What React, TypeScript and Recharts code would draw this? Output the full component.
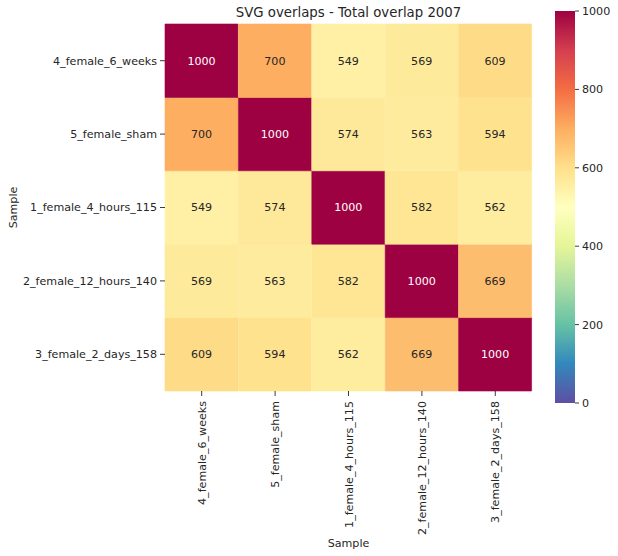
import React from 'react';
import { BarChart, Bar, XAxis, YAxis, Cell, LabelList } from 'recharts';

// Samples, in row order (top to bottom) and column order (left to right)
const samples = [
  '4_female_6_weeks',
  '5_female_sham',
  '1_female_4_hours_115',
  '2_female_12_hours_140',
  '3_female_2_days_158',
];

// Pairwise overlap values, one array per row
const row0 = [1000, 700, 549, 569, 609];
const row1 = [700, 1000, 574, 563, 594];
const row2 = [549, 574, 1000, 582, 562];
const row3 = [569, 563, 582, 1000, 669];
const row4 = [609, 594, 562, 669, 1000];
const rows = [row0, row1, row2, row3, row4];

const colorbarTicks = [0, 200, 400, 600, 800, 1000];
const vmin = 0;
const vmax = 1000;

const title = 'SVG overlaps - Total overlap 2007';
const axisTitle = 'Sample';

// Spectral colormap, reversed (low = purple/blue, high = deep red)
const spectralR = [
  '#5e4fa2', '#3288bd', '#66c2a5', '#abdda4', '#e6f598', '#ffffbf',
  '#fee08b', '#fdae61', '#f46d43', '#d53e4f', '#9e0142',
];

const FONT = '"DejaVu Sans", sans-serif';
const TEXT = '#262626';

function hexToRgb(h: string): number[] {
  return [1, 3, 5].map((i) => parseInt(h.slice(i, i + 2), 16));
}

function colorRgb(v: number): number[] {
  const t = Math.max(0, Math.min(1, (v - vmin) / (vmax - vmin)));
  const pos = t * (spectralR.length - 1);
  const i = Math.min(Math.floor(pos), spectralR.length - 2);
  const f = pos - i;
  const a = hexToRgb(spectralR[i]);
  const b = hexToRgb(spectralR[i + 1]);
  return a.map((c, k) => Math.round(c + (b[k] - c) * f));
}

function color(v: number): string {
  const [r, g, b] = colorRgb(v);
  return `rgb(${r},${g},${b})`;
}

// Light text on dark cells, dark text on light cells
function textColor(v: number): string {
  const lin = colorRgb(v).map((c) => {
    const s = c / 255;
    return s <= 0.03928 ? s / 12.92 : Math.pow((s + 0.055) / 1.055, 2.4);
  });
  const lum = 0.2126 * lin[0] + 0.7152 * lin[1] + 0.0722 * lin[2];
  return lum > 0.408 ? TEXT : '#ffffff';
}

// One entry per column; each row contributes a unit-height stacked segment
const tableData = samples.map((name, j) => {
  const entry: Record<string, any> = { name };
  rows.forEach((r, i) => {
    entry[`v${i}`] = r[j];
    entry[`s${i}`] = 1;
  });
  return entry;
});

const colorbarData = [{ name: 'scale', v: vmax }];

const rowIndexFromBottom = [4, 3, 2, 1, 0];

const XTick = (props: any) => {
  const { x, y, payload } = props;
  return (
    <g transform={`translate(${x},${y})`}>
      <text
        transform="rotate(-90)"
        x={-3}
        y={0}
        dy="0.36em"
        textAnchor="end"
        fontFamily={FONT}
        fontSize={11.1}
        fill={TEXT}
      >
        {payload.value}
      </text>
    </g>
  );
};

const YTitle = (props: any) => {
  const vb = props.viewBox || {};
  const cx = 13;
  const cy = vb.y + vb.height / 2;
  return (
    <text
      transform={`translate(${cx},${cy}) rotate(-90)`}
      textAnchor="middle"
      dy="0.36em"
      fontFamily={FONT}
      fontSize={11.1}
      fill={TEXT}
    >
      {axisTitle}
    </text>
  );
};

const XTitle = (props: any) => {
  const vb = props.viewBox || {};
  return (
    <text
      x={vb.x + vb.width / 2}
      y={543}
      dy="0.36em"
      textAnchor="middle"
      fontFamily={FONT}
      fontSize={11.1}
      fill={TEXT}
    >
      {axisTitle}
    </text>
  );
};

export default function App() {
  return (
    <div style={{ position: 'absolute', left: 0, top: 0, width: 618, height: 556, background: '#fff' }}>
      <div
        style={{
          position: 'absolute',
          left: 165,
          top: 5,
          width: 367,
          textAlign: 'center',
          fontFamily: FONT,
          fontSize: 13.3,
          lineHeight: '16px',
          color: TEXT,
        }}
      >
        {title}
      </div>

      <div style={{ position: 'absolute', left: 0, top: 0 }}>
        <BarChart
          width={618}
          height={556}
          data={tableData}
          margin={{ top: 24, right: 86, bottom: 0, left: 0 }}
          barCategoryGap={0}
          barGap={0}
        >
          <XAxis
            dataKey="name"
            type="category"
            height={165}
            axisLine={false}
            tickLine={{ stroke: TEXT, strokeWidth: 0.9 }}
            tickSize={5}
            tickMargin={2}
            interval={0}
            tick={<XTick />}
            label={{ content: <XTitle /> }}
          />
          <YAxis
            type="number"
            domain={[0, rows.length]}
            ticks={[0.5, 1.5, 2.5, 3.5, 4.5]}
            tickFormatter={(v: number) => samples[rows.length - 1 - Math.floor(v)]}
            width={165}
            axisLine={false}
            tickLine={{ stroke: TEXT, strokeWidth: 0.9 }}
            tickSize={5}
            tickMargin={3}
            tick={{ fontFamily: FONT, fontSize: 11.1, fill: TEXT }}
            label={{ content: <YTitle /> }}
          />
          {rowIndexFromBottom.map((i) => (
            <Bar key={i} dataKey={`s${i}`} stackId="m" isAnimationActive={false}>
              {rows[i].map((v, j) => (
                <Cell key={j} fill={color(v)} stroke={color(v)} strokeWidth={0.6} />
              ))}
              <LabelList
                dataKey={`v${i}`}
                content={(p: any) => {
                  const val = Number(p.value);
                  return (
                    <text
                      x={p.x + p.width / 2}
                      y={p.y + p.height / 2}
                      dy="0.36em"
                      textAnchor="middle"
                      fontFamily={FONT}
                      fontSize={11.1}
                      fill={textColor(val)}
                    >
                      {val}
                    </text>
                  );
                }}
              />
            </Bar>
          ))}
        </BarChart>
      </div>

      <div style={{ position: 'absolute', left: 0, top: 0, pointerEvents: 'none' }}>
        <BarChart
          width={618}
          height={556}
          data={colorbarData}
          margin={{ top: 11, right: 0, bottom: 153, left: 555 }}
          barCategoryGap={0}
        >
          <defs>
            <linearGradient id="cbGrad" x1="0" y1="1" x2="0" y2="0">
              {spectralR.map((c, k) => (
                <stop key={k} offset={`${(k / (spectralR.length - 1)) * 100}%`} stopColor={c} />
              ))}
            </linearGradient>
          </defs>
          <XAxis dataKey="name" hide />
          <YAxis
            yAxisId={0}
            orientation="right"
            type="number"
            domain={[vmin, vmax]}
            ticks={colorbarTicks}
            width={43}
            axisLine={false}
            tickLine={{ stroke: TEXT, strokeWidth: 0.9 }}
            tickSize={4}
            tickMargin={3}
            tick={{ fontFamily: FONT, fontSize: 11.1, fill: TEXT, textAnchor: 'start' }}
          />
          <Bar dataKey="v" fill="url(#cbGrad)" isAnimationActive={false} />
        </BarChart>
      </div>
    </div>
  );
}
